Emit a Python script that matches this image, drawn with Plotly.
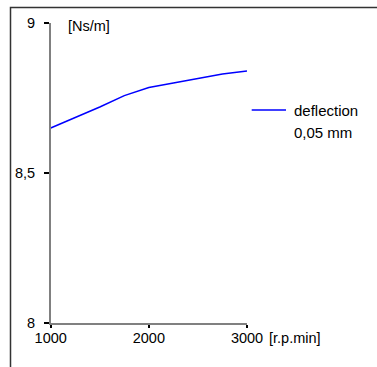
import plotly.graph_objects as go

rpm = [1000, 1250, 1500, 1750, 2000, 2250, 2500, 2750, 3000]
damping = [8.65, 8.685, 8.72, 8.758, 8.785, 8.80, 8.815, 8.83, 8.84]
x_ticks = [1000, 2000, 3000]
x_ticktext = ["1000", "2000", "3000"]
y_ticks = [8, 8.5, 9]
y_ticktext = ["8", "8,5", "9"]
legend_lines = ["deflection", "0,05 mm"]

W, H = 377, 367
FONT = "Liberation Sans, Arial, sans-serif"
FS = 14.5
BLUE = "#0000ff"

fig = go.Figure()
fig.add_trace(go.Scatter(x=rpm, y=damping, mode="lines",
                         name=" ".join(legend_lines), showlegend=False,
                         line=dict(color=BLUE, width=1.5)))

x0p, x1p = 50.7, 247.0
ytop, ybot = 23.0, 323.0

ann = [
    dict(text="[Ns/m]", xref="paper", yref="paper", x=66 / W, y=1 - 26 / H,
         xanchor="left", yanchor="middle", showarrow=False),
    dict(text="[r.p.min]", xref="paper", yref="paper", x=267 / W, y=1 - 338 / H,
         xanchor="left", yanchor="middle", showarrow=False),
]
for i, t in enumerate(legend_lines):
    ann.append(dict(text=t, xref="paper", yref="paper", x=292 / W,
                    y=1 - (110 + 22 * i) / H, xanchor="left", yanchor="middle",
                    showarrow=False, font=dict(family=FONT, size=15, color="black")))

fig.update_layout(
    width=W, height=H,
    margin=dict(l=0, r=0, t=0, b=0, pad=0, autoexpand=False),
    paper_bgcolor="white", plot_bgcolor="white",
    font=dict(family=FONT, size=FS, color="black"),
    showlegend=False,
    xaxis=dict(domain=[x0p / W, x1p / W], range=[1000, 3000],
               tickvals=x_ticks, ticktext=x_ticktext, automargin=False,
               showline=True, linecolor="#808080", linewidth=1.5,
               ticks="outside", ticklen=3, tickcolor="black", tickwidth=1.5,
               showgrid=False, zeroline=False, anchor="y",
               ticklabelstandoff=-2,
               tickfont=dict(family=FONT, size=FS, color="black")),
    yaxis=dict(domain=[1 - ybot / H, 1 - ytop / H], range=[8, 9],
               tickvals=y_ticks, ticktext=y_ticktext, automargin=False,
               showline=True, linecolor="#808080", linewidth=1.5,
               ticks="outside", ticklen=5, tickcolor="black", tickwidth=1.5,
               showgrid=False, zeroline=False, anchor="x",
               ticklabelstandoff=6,
               tickfont=dict(family=FONT, size=FS, color="black")),
    shapes=[
        dict(type="rect", xref="paper", yref="paper",
             x0=10.5 / W, x1=1.2, y0=-0.2, y1=1 - 7.5 / H,
             line=dict(color="#333333", width=1.5), layer="below"),
        dict(type="line", xref="paper", yref="paper",
             x0=251.7 / W, x1=286 / W, y0=1 - 110 / H, y1=1 - 110 / H,
             line=dict(color=BLUE, width=1.5)),
    ],
    annotations=ann,
)

fig.write_html("out.html")
